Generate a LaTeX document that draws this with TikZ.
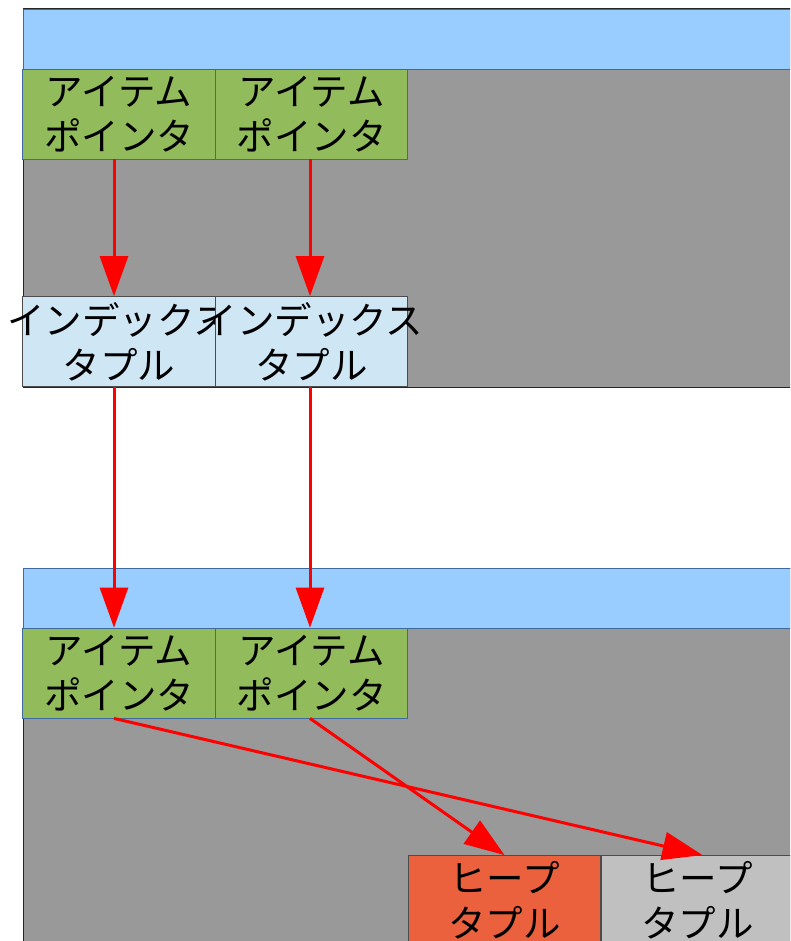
\documentclass[tikz,border=0pt]{standalone}
\usepackage{fontspec}
\newfontfamily\jp{Noto Sans CJK JP}
\usetikzlibrary{arrows.meta}
\definecolor{pagegray}{HTML}{999999}
\definecolor{hdrblue}{HTML}{99CCFF}
\definecolor{ptrgreen}{HTML}{92BB5C}
\definecolor{idxblue}{HTML}{CFE6F5}
\definecolor{heapred}{HTML}{EB613D}
\definecolor{heapgray}{HTML}{C0C0C0}
\definecolor{edgeblue}{HTML}{3F6A9E}
\newcommand\spill[1]{\makebox[0pt][c]{#1}}
\tikzset{
  cell/.style={draw, line width=0.8pt, minimum width=192.5pt, minimum height=90pt, inner sep=0pt,
    align=center, font=\jp\fontsize{37.5}{45}\selectfont, text=black},
  ptr/.style={cell, fill=ptrgreen, draw=edgeblue},
  idx/.style={cell, fill=idxblue, draw=black!70},
  heapa/.style={cell, fill=heapred, draw=black!70},
  heapb/.style={cell, fill=heapgray, draw=black!70},
  link/.style={draw=red, line width=3pt, -{Triangle[width=28pt,length=40pt]}},
  page/.style={draw=black!85, line width=1pt, fill=pagegray},
  hdr/.style={draw=edgeblue, line width=0.8pt, fill=hdrblue},
}
\begin{document}
\begin{tikzpicture}[x=1pt,y=-1pt]
\useasboundingbox (0,0) rectangle (790,941);
\clip (0,0) rectangle (790,941);
% top page
\path[page] (23,8.5) rectangle (800,387);
\path[hdr] (23,9) rectangle (800,69);
\node[ptr] (p1) at (119,114) {アイテム\\ポインタ};
\node[ptr] (p2) at (311.5,114) {アイテム\\ポインタ};
\node[idx] (i1) at (119,341.5) {\spill{インデックス}\\タプル};
\node[idx] (i2) at (311.5,341.5) {\spill{インデックス}\\タプル};
% bottom page
\path[page] (23,568) rectangle (800,960);
\path[hdr] (23,568.5) rectangle (800,628);
\node[ptr] (q1) at (119,673) {アイテム\\ポインタ};
\node[ptr] (q2) at (311.5,673) {アイテム\\ポインタ};
\node[heapa] (h1) at (504.5,900.5) {ヒープ\\タプル};
\node[heapb] (h2) at (697.5,900.5) {ヒープ\\タプル};
% arrows
\draw[link] ([xshift=-5pt]p1.south) -- ([xshift=-5pt]i1.north);
\draw[link] ([xshift=-1.5pt]p2.south) -- ([xshift=-1.5pt]i2.north);
\draw[link] ([xshift=-5pt]i1.south) -- ([xshift=-5pt]q1.north);
\draw[link] ([xshift=-1.5pt]i2.south) -- ([xshift=-1.5pt]q2.north);
\draw[link] ([xshift=-5pt]q1.south) -- ([xshift=5pt]h2.north);
\draw[link] ([xshift=-1.5pt]q2.south) -- (h1.north);
\end{tikzpicture}
\end{document}
